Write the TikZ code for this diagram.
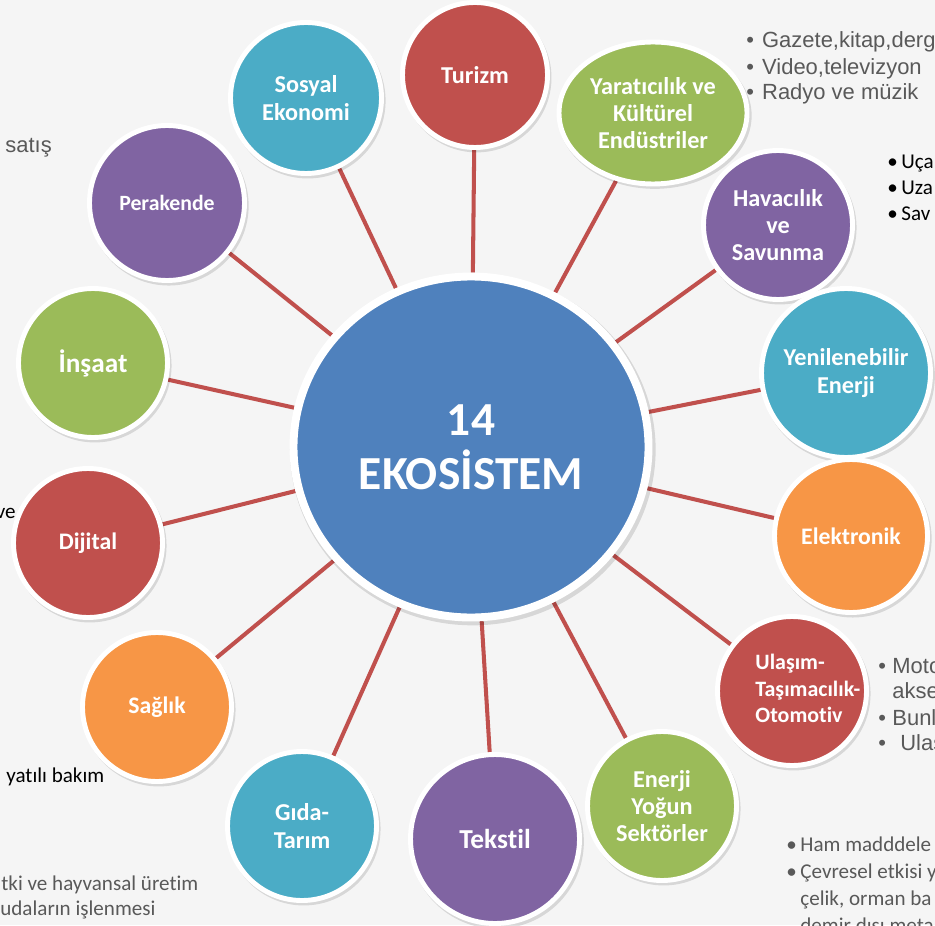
\documentclass[tikz,border=0pt]{standalone}
\usepackage{fontspec}
\setmainfont{Carlito}[Ligatures=NoCommon]
\newfontfamily\arialf{Liberation Sans}
\usetikzlibrary{shapes.geometric, shadows}
\definecolor{ecoblue}{HTML}{4F81BD}
\definecolor{ecored}{HTML}{C0504D}
\definecolor{ecogreen}{HTML}{9BBB59}
\definecolor{ecopurple}{HTML}{8064A2}
\definecolor{ecoteal}{HTML}{4BACC6}
\definecolor{ecoorange}{HTML}{F79646}
\definecolor{bgfill}{HTML}{F5F5F5}
\definecolor{notegray}{HTML}{595959}
\pgfdeclarelayer{bg}
\pgfdeclarelayer{edges}
\pgfsetlayers{bg,edges,main}

\begin{document}
\begin{tikzpicture}[x=0.02cm, y=-0.02cm,
    eco/.style={circle, fill=#1, draw=white, line width=2.8pt, text=white,
      align=center, inner sep=1pt, font=\bfseries\fontsize{13.8}{15.5}\selectfont,
      drop shadow={shadow xshift=1pt, shadow yshift=-1.5pt, shadow scale=1.03, opacity=.12, fill=black}},
    small/.style={minimum size=149*0.02cm},
    link/.style={ecored, line width=2.3pt},
    note/.style={anchor=base west, inner sep=0pt, text=notegray, font=\arialf\fontsize{12.5}{14}\selectfont},
    memo/.style={anchor=base west, inner sep=0pt, text=#1, font=\fontsize{12}{14}\selectfont}]
	\useasboundingbox (0,0) rectangle (935,925);
	\begin{pgfonlayer}{bg}
		\fill[bgfill] (0,0) rectangle (935,925);
	\end{pgfonlayer}
	% side notes
	\foreach \i/\y/\t in {1/48/{Gazete,kitap,derg}, 2/75/{Video,televizyon}, 3/100/{Radyo ve müzik}}
	{\node[note] (gz\i) at (746,\y) {\makebox[9pt][l]{\textbullet}\t};}
	\foreach \i/\y/\t in {1/169/{Uça}, 2/195/{Uza}, 3/221/{Sav}}
	{\node[memo=black] (uc\i) at (887,\y) {\makebox[8pt][l]{\textbullet}\t};}
	\foreach \i/\y/\b/\t in {1/673/\textbullet/{Moto}, 2/698//{akse}, 3/725/\textbullet/{Bunl}, 4/750/\textbullet/{\hspace{4.5pt}Ulaş}}
	{\node[note] (mo\i) at (878,\y) {\makebox[8pt][l]{\b}\t};}
	\foreach \i/\y/\b/\t in {1/851/\textbullet/{Ham madddele}, 2/878/\textbullet/{Çevresel etkisi y}, 3/905//{çelik, orman ba}, 4/932//{demir dışı meta}}
	{\node[memo=notegray] (hm\i) at (786,\y) {\makebox[8pt][l]{\b}\t};}
	\node[note] (sat) at (5,153) {satış};
	\node[memo=black, anchor=base east] (ve) at (16,518) {ve};
	\node[memo=black] (yat) at (6,782) {yatılı bakım};
	\node[memo=notegray] (tk1) at (1,890) {tki ve hayvansal üretim};
	\node[memo=notegray] (tk2) at (0,915) {udaların işlenmesi};
	% ecosystems
	\node[eco=ecoblue, ellipse, minimum width=355*0.02cm, minimum height=341*0.02cm, line width=4.5pt,
	  font=\bfseries\fontsize{27}{31}\selectfont] (eko) at (471,447) {14\\EKOSİSTEM};
	\node[eco=ecored, minimum size=145*0.02cm] (tur) at (475,75) {Turizm};
	\node[eco=ecogreen, ellipse, minimum width=188*0.02cm, minimum height=142*0.02cm] (yar) at (653,113) {Yaratıcılık ve\\Kültürel\\Endüstriler};
	\node[eco=ecopurple, small] (hav) at (778,225) {Havacılık\\ve\\Savunma};
	\node[eco=ecoteal, minimum size=169*0.02cm] (yen) at (846,373) {Yenilenebilir\\Enerji};
	\node[eco=ecoorange, minimum size=153*0.02cm, font=\bfseries\fontsize{13.5}{16}\selectfont] (ele) at (851,536) {Elektronik};
	\node[eco=ecored, small, font=\bfseries\fontsize{12.5}{15}\selectfont] (ula) at (792,691)
	  {\begin{tabular}{@{\hspace{9pt}}l@{\hspace{-9pt}}}Ulaşım-\\Taşımacılık-\\Otomotiv\end{tabular}};
	\node[eco=ecogreen, small] (enr) at (662,806) {Enerji\\Yoğun\\Sektörler};
	\node[eco=ecopurple, minimum size=169*0.02cm, font=\bfseries\fontsize{15.6}{18}\selectfont] (tek) at (495,839) {Tekstil};
	\node[eco=ecoteal, small] (gid) at (302,826) {Gıda-\\Tarım};
	\node[eco=ecoorange, small, font=\bfseries\fontsize{13.5}{16}\selectfont] (sag) at (157,707) {Sağlık};
	\node[eco=ecored, small, font=\bfseries\fontsize{13.5}{16}\selectfont] (dij) at (88,543) {Dijital};
	\node[eco=ecogreen, small, font=\bfseries\fontsize{15.5}{19}\selectfont] (ins) at (93,363) {İnşaat};
	\node[eco=ecopurple, minimum size=155*0.02cm, font=\bfseries\fontsize{12.4}{14}\selectfont] (per) at (167,203) {Perakende};
	\node[eco=ecoteal, minimum size=151*0.02cm] (sos) at (306,98) {Sosyal\\Ekonomi};
	\begin{pgfonlayer}{edges}
		\foreach \n in {tur, yar, hav, yen, ele, ula, enr, tek, gid, sag, dij, ins, per, sos}
		{\draw[link] (eko) -- (\n);}
	\end{pgfonlayer}
\end{tikzpicture}
\end{document}
